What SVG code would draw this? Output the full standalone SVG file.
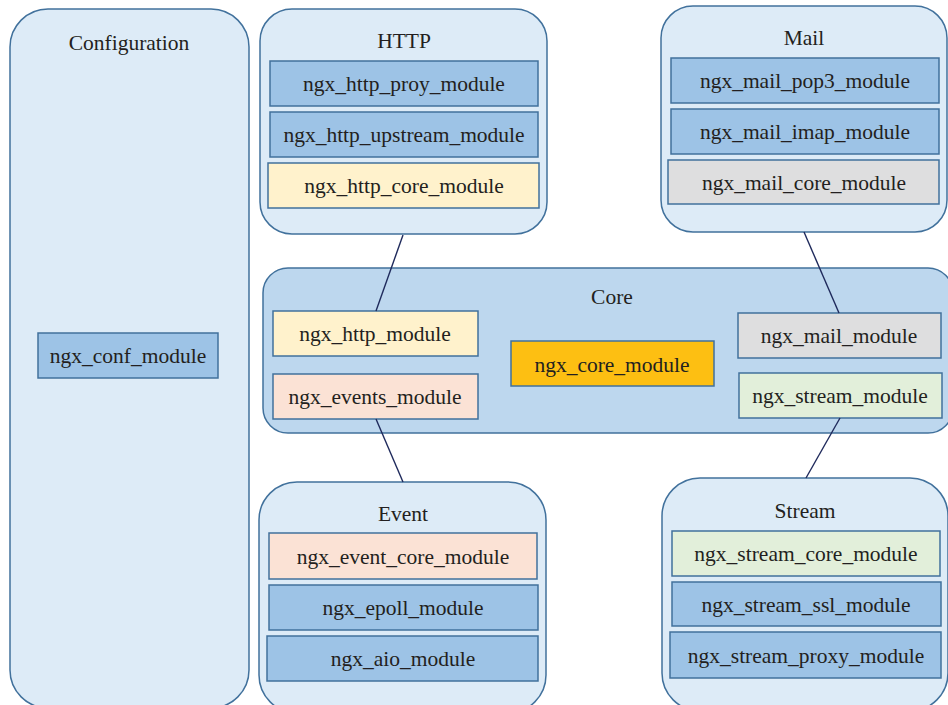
<svg xmlns="http://www.w3.org/2000/svg" width="948" height="705" viewBox="0 0 948 705">
<style>
.grp{fill:#DDEBF7;stroke:#41719C;stroke-width:1.5}
.core{fill:#BDD7EE;stroke:#41719C;stroke-width:1.5}
.box{stroke:#41719C;stroke-width:1.5}
.blue{fill:#9DC3E6}
.yellow{fill:#FFF2CC}
.grey{fill:#DEDEDF}
.peach{fill:#FBE2D5}
.green{fill:#E2EFDA}
.gold{fill:#FDBF12}
text{font-family:"Liberation Serif","Times New Roman",serif;font-size:21.5px;fill:#231F20;text-anchor:middle}
.conn{stroke:#1F2A5C;stroke-width:1.4;fill:none}
</style>
<rect width="948" height="705" fill="#FFFFFF"/>
<g id="configuration">
<rect class="grp" x="10" y="9" width="239" height="699" rx="38" ry="38"/>
<text x="129" y="50">Configuration</text>
<g id="ngx_conf_module"><rect class="box blue" x="38" y="333" width="180" height="45"/><text x="128" y="363">ngx_conf_module</text></g>
</g>
<g id="http">
<rect class="grp" x="260" y="9" width="287" height="225" rx="32" ry="32"/>
<text x="404" y="48">HTTP</text>
<g id="ngx_http_proy_module"><rect class="box blue" x="270" y="61" width="268" height="45"/><text x="404" y="91">ngx_http_proy_module</text></g>
<g id="ngx_http_upstream_module"><rect class="box blue" x="270" y="112" width="268" height="45"/><text x="404" y="142">ngx_http_upstream_module</text></g>
<g id="ngx_http_core_module"><rect class="box yellow" x="268" y="163" width="271" height="45"/><text x="404" y="193">ngx_http_core_module</text></g>
</g>
<g id="mail">
<rect class="grp" x="661" y="6" width="286" height="226" rx="32" ry="32"/>
<text x="804" y="45">Mail</text>
<g id="ngx_mail_pop3_module"><rect class="box blue" x="671" y="58" width="268" height="45"/><text x="805" y="88">ngx_mail_pop3_module</text></g>
<g id="ngx_mail_imap_module"><rect class="box blue" x="671" y="109" width="268" height="45"/><text x="805" y="139">ngx_mail_imap_module</text></g>
<g id="ngx_mail_core_module"><rect class="box grey" x="668" y="160" width="271" height="44"/><text x="804" y="190">ngx_mail_core_module</text></g>
</g>
<g id="core">
<rect class="core" x="263" y="268" width="690" height="165" rx="25" ry="25"/>
<text x="612" y="304">Core</text>
<g id="ngx_http_module"><rect class="box yellow" x="273" y="311" width="205" height="45"/><text x="375" y="341">ngx_http_module</text></g>
<g id="ngx_events_module"><rect class="box peach" x="273" y="374" width="205" height="45"/><text x="375" y="404">ngx_events_module</text></g>
<g id="ngx_core_module"><rect class="box gold" x="511" y="341" width="203" height="45"/><text x="612" y="372">ngx_core_module</text></g>
<g id="ngx_mail_module"><rect class="box grey" x="738" y="313" width="203" height="45"/><text x="839" y="343">ngx_mail_module</text></g>
<g id="ngx_stream_module"><rect class="box green" x="739" y="373" width="203" height="45"/><text x="840" y="403">ngx_stream_module</text></g>
</g>
<g id="event">
<rect class="grp" x="259" y="482" width="287" height="231" rx="38" ry="38"/>
<text x="403" y="521">Event</text>
<g id="ngx_event_core_module"><rect class="box peach" x="269" y="533" width="268" height="46"/><text x="403" y="564">ngx_event_core_module</text></g>
<g id="ngx_epoll_module"><rect class="box blue" x="269" y="585" width="269" height="45"/><text x="403" y="615">ngx_epoll_module</text></g>
<g id="ngx_aio_module"><rect class="box blue" x="267" y="636" width="271" height="45"/><text x="403" y="666">ngx_aio_module</text></g>
</g>
<g id="stream">
<rect class="grp" x="662" y="478" width="286" height="233" rx="38" ry="38"/>
<text x="805" y="518">Stream</text>
<g id="ngx_stream_core_module"><rect class="box green" x="672" y="531" width="268" height="45"/><text x="806" y="561">ngx_stream_core_module</text></g>
<g id="ngx_stream_ssl_module"><rect class="box blue" x="672" y="582" width="269" height="44"/><text x="806" y="612">ngx_stream_ssl_module</text></g>
<g id="ngx_stream_proxy_module"><rect class="box blue" x="670" y="632" width="271" height="46"/><text x="806" y="663">ngx_stream_proxy_module</text></g>
</g>
<g id="connectors">
<line class="conn" x1="403" y1="235" x2="376" y2="311"/>
<line class="conn" x1="376" y1="419" x2="403" y2="482"/>
<line class="conn" x1="804" y1="232" x2="839" y2="313"/>
<line class="conn" x1="840" y1="418" x2="806" y2="478"/>
</g>
</svg>
